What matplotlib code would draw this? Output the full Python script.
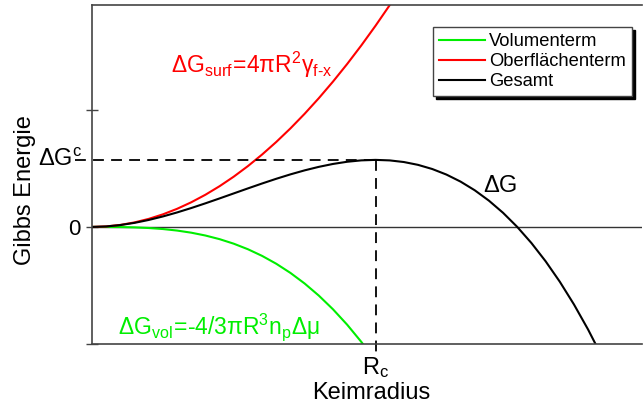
import numpy as np
import matplotlib.pyplot as plt

plt.rcParams['font.family'] = ['Liberation Sans', 'DejaVu Sans']
plt.rcParams['mathtext.fontset'] = 'custom'
plt.rcParams['mathtext.rm'] = 'Liberation Sans'
plt.rcParams['mathtext.it'] = 'Liberation Sans'
plt.rcParams['mathtext.default'] = 'regular'

# Keimradius in Einheiten von R_c, Energie in Einheiten von dG^c
radius = [0.0, 0.05, 0.1, 0.15, 0.2, 0.25, 0.3, 0.35, 0.4, 0.45, 0.5,
          0.55, 0.6, 0.65, 0.7, 0.75, 0.8, 0.85, 0.9, 0.95, 1.0,
          1.05, 1.1, 1.15, 1.2, 1.25, 1.3, 1.35, 1.4, 1.45, 1.5,
          1.55, 1.6, 1.65, 1.7, 1.75, 1.8, 1.85]
g_vol = [0.0, -0.00025, -0.002, -0.00675, -0.016, -0.03125, -0.054, -0.08575, -0.128, -0.18225, -0.25,
         -0.33275, -0.432, -0.54925, -0.686, -0.84375, -1.024, -1.22825, -1.458, -1.71475, -2.0]
g_surf = [0.0, 0.0075, 0.03, 0.0675, 0.12, 0.1875, 0.27, 0.3675, 0.48, 0.6075, 0.75,
          0.9075, 1.08, 1.2675, 1.47, 1.6875, 1.92, 2.1675, 2.43, 2.7075, 3.0,
          3.3075, 3.63]
g_total = [0.0, 0.00725, 0.028, 0.06075, 0.104, 0.15625, 0.216, 0.28175, 0.352, 0.42525, 0.5,
           0.57475, 0.648, 0.71825, 0.784, 0.84375, 0.896, 0.93925, 0.972, 0.99275, 1.0,
           0.99225, 0.968, 0.92575, 0.864, 0.78125, 0.676, 0.54675, 0.392, 0.21025, 0.0,
           -0.24025, -0.512, -0.81675, -1.156, -1.53125, -1.944, -2.39575]
r_c = 1.0
g_c = 1.0
legend_labels = ['Volumenterm', 'Oberflächenterm', 'Gesamt']

fig = plt.figure(figsize=(6.43, 4.07), dpi=100)
ax = fig.add_axes([92/643, 1-344/407, 550/643, 339/407])

ax.plot(radius[:len(g_vol)], g_vol, color='#00ee00', lw=1.5, label=legend_labels[0])
ax.plot(radius[:len(g_surf)], g_surf, color='#ff0000', lw=1.5, label=legend_labels[1])
ax.plot(radius[:len(g_total)], g_total, color='black', lw=1.5, label=legend_labels[2])

ax.set_xlim(0, 1.94)
ax.set_ylim(-1.746, 3.31)
ax.axhline(0, color='#333333', lw=1, zorder=0)

# gestrichelte Hilfslinien zum Maximum
ax.plot([-0.06, r_c], [g_c, g_c], 'k--', lw=1.3, dashes=(6, 4), clip_on=False)
ax.plot([r_c, r_c], [g_c, -1.87], 'k--', lw=1.3, dashes=(6, 4), clip_on=False)

for s in ['left', 'top', 'bottom']:
    ax.spines[s].set_color('#444444')
    ax.spines[s].set_linewidth(1.2)
ax.spines['right'].set_visible(False)

ax.set_xticks([])
ax.set_yticks([-1.746, 0, 1.746])
ax.set_yticklabels(['', '0', ''], fontsize=16)
ax.tick_params(axis='y', direction='inout', length=8, width=1, colors='#444444',
               labelcolor='black', pad=4)

ax.text(-0.035, g_c, r'$\Delta G^c$', fontsize=17, ha='right', va='center')
ax.text(r_c, -2.1, r'$R_c$', fontsize=17, ha='center', va='center')
ax.text(0.985, -2.48, 'Keimradius', fontsize=17, ha='center', va='center')
ax.text(-0.122, 0.55, 'Gibbs Energie', fontsize=17, rotation=90, ha='center', va='center',
        transform=ax.get_yaxis_transform())

ax.text(0.28, 2.3, r'$\Delta G_{surf}\!=\!4\pi R^2\gamma_{f\text{-}x}$', color='#ff0000', fontsize=16.5)
ax.text(0.09, -1.6, r'$\Delta G_{vol}\!=\!\text{-}4/3\pi R^3n_p\Delta\mu$', color='#00ee00', fontsize=16.5)
ax.text(1.38, 0.52, r'$\Delta G$', color='black', fontsize=17)

leg = ax.legend(loc='upper right', bbox_to_anchor=(0.982, 0.935), borderaxespad=0,
                fontsize=13.2, shadow={'color': 'black', 'alpha': 1}, fancybox=False,
                framealpha=1, edgecolor='#444444',
                handlelength=2.5, borderpad=0.35, labelspacing=0.15, handletextpad=0.2)

fig.savefig('out.png', dpi=100)
